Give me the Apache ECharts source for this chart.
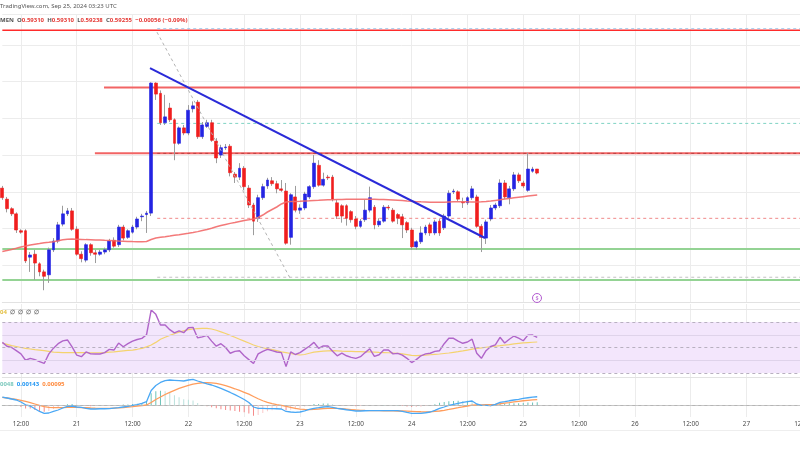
<!DOCTYPE html>
<html><head><meta charset="utf-8">
<script src="https://cdn.jsdelivr.net/npm/echarts@6.0.0/dist/echarts.min.js"></script>
<style>html,body{margin:0;padding:0;background:#fff}#c{width:800px;height:450px}</style>
</head><body><div id="c"></div>
<script>
// ---- axis labels (hourly slots starting Sep 20 08:00) ----
const timeLabels = ['12:00','21','12:00','22','12:00','23','12:00','24','12:00','25','12:00','26','12:00','27','12:00'];
const firstLabelIndex = 4;
const labelStep = 12;
const slotCount = 173;

// ---- hourly candles ----
const opens = [0.5905,0.5890,0.5877,0.5870,0.5847,0.5847,0.5811,0.5815,0.5802,0.5791,
0.5787,0.5821,0.5833,0.5856,0.5870,0.5874,0.5849,0.5815,0.5807,0.5828,
0.5817,0.5815,0.5818,0.5821,0.5834,0.5828,0.5852,0.5838,0.5845,0.5852,
0.5866,0.5869,0.5871,0.6048,0.6034,0.5994,0.6014,0.5998,0.5966,0.5987,
0.5980,0.6013,0.6022,0.5975,0.5989,0.5994,0.5969,0.5950,0.5960,0.5962,
0.5924,0.5920,0.5932,0.5905,0.5882,0.5864,0.5892,0.5908,0.5915,0.5911,
0.5904,0.5901,0.5838,0.5893,0.5875,0.5878,0.5893,0.5907,0.5936,0.5909,
0.5920,0.5920,0.5885,0.5881,0.5881,0.5873,0.5863,0.5853,0.5862,0.5875,
0.5879,0.5855,0.5860,0.5879,0.5875,0.5869,0.5866,0.5858,0.5848,0.5825,
0.5832,0.5844,0.5855,0.5844,0.5860,0.5851,0.5867,0.5900,0.5900,0.5886,
0.5885,0.5892,0.5893,0.5853,0.5837,0.5863,0.5878,0.5881,0.5912,0.5892,
0.5904,0.5923,0.5912,0.5902,0.5928,0.5931];
const closes = [0.5892,0.5877,0.5870,0.5848,0.5845,0.5806,0.5814,0.5803,0.5791,0.5785,
0.5821,0.5833,0.5855,0.5870,0.5874,0.5849,0.5815,0.5809,0.5828,0.5817,
0.5815,0.5818,0.5821,0.5833,0.5826,0.5852,0.5837,0.5847,0.5852,0.5863,
0.5867,0.5871,0.6048,0.6033,0.5994,0.6002,0.5998,0.5966,0.5987,0.5980,
0.6011,0.6017,0.5975,0.5991,0.5994,0.5970,0.5946,0.5960,0.5961,0.5926,
0.5920,0.5932,0.5907,0.5882,0.5860,0.5892,0.5907,0.5916,0.5911,0.5904,
0.5902,0.5830,0.5896,0.5875,0.5878,0.5897,0.5907,0.5939,0.5909,0.5917,
0.5919,0.5890,0.5867,0.5867,0.5864,0.5862,0.5853,0.5860,0.5875,0.5892,
0.5855,0.5860,0.5879,0.5878,0.5860,0.5864,0.5855,0.5848,0.5825,0.5832,
0.5844,0.5852,0.5844,0.5859,0.5844,0.5867,0.5898,0.5901,0.5890,0.5885,
0.5892,0.5904,0.5853,0.5838,0.5859,0.5878,0.5882,0.5912,0.5893,0.5904,
0.5923,0.5915,0.5908,0.5931,0.5931,0.59255];
const lows = [0.5889,0.5872,0.5867,0.5844,0.5843,0.5803,0.5791,0.5780,0.5785,0.5766,
0.5776,0.5818,0.5830,0.5853,0.5867,0.5847,0.5813,0.5804,0.5804,0.5813,
0.5803,0.5813,0.5815,0.5818,0.5824,0.5825,0.5834,0.5836,0.5843,0.5849,
0.5860,0.5844,0.5867,0.6025,0.5991,0.5991,0.5995,0.5943,0.5964,0.5977,
0.5977,0.6008,0.5972,0.5972,0.5987,0.5968,0.5939,0.5946,0.5957,0.5921,
0.5912,0.5916,0.5902,0.5878,0.5841,0.5859,0.5889,0.5904,0.5908,0.5898,
0.5900,0.5828,0.5828,0.5872,0.5870,0.5875,0.5890,0.5904,0.5907,0.5907,
0.5916,0.5887,0.5863,0.5858,0.5854,0.5858,0.5849,0.5851,0.5859,0.5872,
0.5849,0.5852,0.5858,0.5875,0.5858,0.5856,0.5837,0.5844,0.5821,0.5821,
0.5829,0.5841,0.5840,0.5841,0.5840,0.5848,0.5864,0.5897,0.5887,0.5878,
0.5882,0.5889,0.5851,0.5818,0.5829,0.5860,0.5875,0.5878,0.5890,0.5883,
0.5901,0.5912,0.5905,0.5900,0.5926,0.59238];
const highs = [0.5908,0.5893,0.5879,0.5872,0.5849,0.5849,0.5818,0.5821,0.5804,0.5794,
0.5824,0.5837,0.5859,0.5881,0.5878,0.5878,0.5853,0.5819,0.5830,0.5830,
0.5821,0.5821,0.5824,0.5836,0.5838,0.5855,0.5855,0.5849,0.5855,0.5866,
0.5870,0.5874,0.6049,0.6049,0.6038,0.6032,0.6021,0.6000,0.5989,0.5991,
0.6018,0.6023,0.6025,0.5995,0.5998,0.5998,0.5973,0.5964,0.5965,0.5965,
0.5927,0.5939,0.5935,0.5909,0.5885,0.5896,0.5911,0.5919,0.5920,0.5915,
0.5916,0.5912,0.5898,0.5908,0.5883,0.5900,0.5909,0.5950,0.5943,0.5926,
0.5923,0.5923,0.5889,0.5883,0.5883,0.5875,0.5867,0.5863,0.5889,0.5907,
0.5882,0.5864,0.5882,0.5882,0.5878,0.5871,0.5870,0.5860,0.5851,0.5834,
0.5853,0.5855,0.5858,0.5862,0.5863,0.5870,0.5902,0.5904,0.5902,0.5892,
0.5894,0.5908,0.5896,0.5856,0.5862,0.5882,0.5885,0.5917,0.5916,0.5908,
0.5927,0.5926,0.5915,0.5953,0.5934,0.5931];

// ---- moving average on price ----
const maValues = [0.58188,0.58201,0.58215,0.58231,0.58249,0.58262,0.58276,0.58287,0.58296,0.58306,
0.58313,0.58321,0.58333,0.58347,0.58355,0.58358,0.58355,0.58352,0.58349,0.58347,
0.58344,0.58344,0.5834,0.58337,0.58333,0.5833,0.58328,0.58325,0.58322,0.58321,
0.58319,0.58324,0.58351,0.58371,0.58381,0.58389,0.58398,0.58408,0.58416,0.58426,
0.58435,0.58446,0.58458,0.58473,0.58487,0.58504,0.58524,0.58541,0.58556,0.5857,
0.58582,0.58596,0.58609,0.58619,0.5863,0.5865,0.58684,0.58725,0.58759,0.58793,
0.58834,0.58861,0.58868,0.58868,0.5887,0.58874,0.58878,0.58883,0.58885,0.58888,
0.58891,0.58893,0.58895,0.58896,0.58898,0.58899,0.58899,0.58899,0.58899,0.58899,
0.58898,0.58896,0.58895,0.58892,0.58888,0.58884,0.5888,0.58874,0.5887,0.58866,
0.58863,0.58861,0.58859,0.58858,0.58858,0.58858,0.58861,0.58863,0.58865,0.58865,
0.58863,0.58862,0.58861,0.58863,0.58868,0.58874,0.58883,0.58892,0.58902,0.5891,
0.58918,0.58926,0.58934,0.58942,0.58949,0.58956];

// ---- drawn annotations: [slot index, price] ----
const trendLine = [[31.75,0.60683],[103.78,0.58371]];
const measureLine = [[33.25,0.61173],[61.85,0.57827]];
const levelPrices = [0.6120,0.6122,0.60421,0.59931,0.59523,0.59523,0.58639,0.58222,0.57837,0.5780];
const levelStarts = [0,33.3,21.86,33.3,19.9,33.3,33.3,0,33.3,0];

// ---- RSI ----
const rsiValues = [54,51,50,47.5,45,40,41.5,40.5,39,37.5,
45,49.5,53,55.2,55.9,50.5,44,42.8,46.5,45,
44.9,44.9,46,48.5,48,53.5,50.6,53,55,56.3,
57.2,60,79.4,76,67.6,67.6,64,61.5,63,61.6,
65.5,65.8,57.5,58.3,59.5,55,51,53,50,45.5,
47,47.5,43.5,40.5,37.5,45,47,48.6,47.5,46.5,
46,35,46.5,44.5,46,48.5,51,54,49.4,51.2,
51.2,47,43.5,45.5,43.5,42.3,41.5,42.8,46,49,
43,44.3,48,48,45,45.4,44,41.5,38.2,40.5,
43.5,45,45.5,47,47.5,53,57.2,57.2,55,53.3,
54.3,56.5,45.5,41.5,47.5,50.8,52,58,53.5,56.5,
59,57.3,55.3,59.7,59.8,58];
const rsiMA = [53.5,52.5,51.5,50.8,50,49.3,48.8,48.3,48,47.5,
47,46.4,46.2,46,46,46,46,46,46,45.9,
45.9,45.9,46,46.3,46.6,47,47.4,47.8,48,48.6,
49.3,50.5,52,54,56.5,58,59.5,60.8,62,63,
64,64.5,64.8,65,65,64.5,63.5,62.3,61,59.5,
58,56.5,55,53.5,52,50.8,49.8,49,48.3,47.5,
46.6,46,45.3,44.5,44.1,44.5,45.5,46.4,46.8,47.1,
47.4,47.5,47.3,47.1,47,46.9,46.8,46.7,46.6,46.5,
46.3,46.1,46,45.9,45.7,45.5,45,44.4,43.8,43.6,
43.8,44,44.3,44.6,44.9,45.3,45.7,46.2,46.7,47.3,
48,48.7,49.3,49.7,50.2,50.6,51,51.4,51.9,52.3,
52.8,53.2,53.6,53.9,54.1,54.3];

// ---- MACD ----
const macdLine = [0.00136,0.00122,0.00105,0.00088,0.00054,0.00007,-0.00014,-0.00061,-0.00107,-0.00138,
-0.00133,-0.00107,-0.00082,-0.00048,-0.00022,-0.00014,-0.00031,-0.00039,-0.00053,-0.00065,
-0.00065,-0.00061,-0.00061,-0.0006,-0.00051,-0.00043,-0.00031,-0.00022,-0.00005,0.00009,
0.00029,0.0006,0.0025,0.00335,0.00386,0.00417,0.00428,0.00423,0.00417,0.00411,
0.00428,0.00437,0.00411,0.00386,0.00364,0.00343,0.00315,0.00284,0.0025,0.00216,
0.00179,0.00139,0.00097,0.00046,-0.00031,-0.00056,-0.00056,-0.00058,-0.0006,-0.00061,
-0.00065,-0.00107,-0.00116,-0.00124,-0.00116,-0.00095,-0.00073,-0.00053,-0.00043,-0.00031,
-0.00026,-0.00039,-0.00056,-0.00065,-0.00078,-0.0009,-0.00099,-0.00099,-0.00095,-0.00094,
-0.00094,-0.00094,-0.00094,-0.00094,-0.00094,-0.00094,-0.00107,-0.00124,-0.00138,-0.00141,
-0.00138,-0.00129,-0.00116,-0.0009,-0.00056,-0.00031,-0.00005,0.00015,0.00032,0.00046,
0.0006,0.00071,0.0002,-0.00002,-0.00005,-0.00009,0.00012,0.00046,0.0006,0.00075,
0.00088,0.001,0.00114,0.00126,0.00136,0.00143];
const signalLine = [0.00134,0.00122,0.00109,0.00097,0.00083,0.00063,0.00043,0.0002,-0.00005,-0.00026,
-0.00036,-0.00041,-0.00043,-0.00041,-0.00037,-0.00036,-0.00037,-0.00041,-0.00044,-0.00048,
-0.00051,-0.00053,-0.00053,-0.00053,-0.00049,-0.00046,-0.00041,-0.00034,-0.00026,-0.00017,
-0.00007,0.00003,0.00046,0.00097,0.00139,0.00182,0.00219,0.00253,0.00284,0.00311,
0.00335,0.00357,0.00372,0.00381,0.00383,0.00379,0.00369,0.00352,0.00332,0.00306,
0.00279,0.0025,0.00219,0.00187,0.00148,0.00109,0.00075,0.00046,0.00026,0.0001,
-0.00005,-0.00022,-0.00039,-0.00054,-0.00068,-0.00073,-0.00075,-0.00071,-0.00065,-0.00058,
-0.00053,-0.00053,-0.00056,-0.00061,-0.00068,-0.00075,-0.00082,-0.00087,-0.0009,-0.00092,
-0.00094,-0.00094,-0.00095,-0.00095,-0.00097,-0.00099,-0.00099,-0.00102,-0.00105,-0.00109,
-0.00112,-0.00114,-0.00112,-0.00107,-0.00099,-0.00087,-0.00073,-0.00058,-0.00043,-0.00027,
-0.00014,0,0.00003,0.00003,0.00007,0.0001,0.00015,0.00024,0.00034,0.00044,
0.00056,0.00066,0.00075,0.00082,0.00089,0.00095];

// ---------- build ----------
const cats = [];
for (let i = 0; i < slotCount; i++) {
  const k = i - firstLabelIndex;
  cats.push(k >= 0 && k % labelStep === 0 ? timeLabels[k / labelStep] : '');
}
const isLabel = (idx) => cats[idx] !== '';
const wickData = opens.map((o, i) => [o, closes[i], lows[i], highs[i]]);
const bodyData = opens.map((o, i) => [o, closes[i], Math.min(o, closes[i]), Math.max(o, closes[i])]);
const histData = macdLine.map((m, i) => +(m - signalLine[i]).toFixed(6));

const levelStyles = [
  {color:'#ff2b2b', width:1.5, type:'solid'},
  {color:'#9ec5ea', width:1, type:[3,3]},
  {color:'#f26464', width:2, type:'solid'},
  {color:'#7fd3c3', width:1, type:[3,3]},
  {color:'#f26464', width:2, type:'solid'},
  {color:'#b94343', width:1, type:[3,3]},
  {color:'#f08a8a', width:1, type:[3,3]},
  {color:'#94d394', width:2, type:'solid'},
  {color:'#c2c2c2', width:1, type:[3,3]},
  {color:'#94d394', width:2, type:'solid'}
];
const lastSlot = slotCount - 1;
const levelSeries = levelPrices.map((p, i) => ({
  type:'line', xAxisIndex:1, yAxisIndex:0, symbol:'none', silent:true, z:1,
  lineStyle: levelStyles[i], data: [[levelStarts[i], p], [lastSlot, p]], animation:false
}));

const grid = { color:'#ececec' };
const font = 'Noto Sans';
const fs = 6.0;
const chart = echarts.init(document.getElementById('c'), null, {renderer:'canvas'});
chart.setOption({
  animation:false,
  backgroundColor:'#ffffff',
  title:[
    {text:'TradingView.com, Sep 25, 2024 03:23 UTC', left:0, top:3, padding:0,
     textStyle:{fontSize:fs, color:'#555', fontWeight:'normal', fontFamily:font}},
    {text:'{k|MEN}  {k|O}{v|0.59310}  {k|H}{v|0.59310}  {k|L}{v|0.59238}  {k|C}{v|0.59255}  {v|−0.00056 (−0.09%)}',
     left:0, top:17, padding:0,
     textStyle:{fontSize:fs, fontFamily:font, rich:{
       k:{fontSize:fs, color:'#555', fontFamily:font},
       v:{fontSize:fs, color:'#e53935', fontFamily:font}}}},
    {text:'{y|04}  {g|∅  ∅  ∅  ∅}', left:0, top:309, padding:0,
     textStyle:{fontSize:fs, fontFamily:font, rich:{
       y:{fontSize:fs, color:'#e3bf3f', fontFamily:font},
       g:{fontSize:fs, color:'#777', fontFamily:font}}}},
    {text:'{t|0048}  {b|0.00143}  {o|0.00095}', left:0, top:381, padding:0,
     textStyle:{fontSize:fs, fontFamily:font, rich:{
       t:{fontSize:fs, color:'#7cc9bd', fontFamily:font},
       b:{fontSize:fs, color:'#2196f3', fontFamily:font},
       o:{fontSize:fs, color:'#ff8a3d', fontFamily:font}}}}
  ],
  grid:[
    {left:2.33, top:14, width:800, height:288, containLabel:false, outerBoundsMode:'none'},
    {left:2.33, top:304, width:800, height:73, containLabel:false, outerBoundsMode:'none'},
    {left:2.33, top:378, width:800, height:39, containLabel:false, outerBoundsMode:'none'}
  ],
  xAxis:[
    {type:'category', gridIndex:0, data:cats, boundaryGap:false,
     axisLine:{show:true, lineStyle:{color:'#e2e2e2'}}, axisTick:{show:false}, axisLabel:{show:false},
     splitLine:{show:true, interval:(i)=>isLabel(i), lineStyle:grid}},
    {type:'value', gridIndex:0, min:0, max:lastSlot, show:false},
    {type:'category', gridIndex:1, data:cats, boundaryGap:false,
     axisLine:{show:true, lineStyle:{color:'#e2e2e2'}}, axisTick:{show:false}, axisLabel:{show:false},
     splitLine:{show:true, interval:(i)=>isLabel(i), lineStyle:grid}},
    {type:'category', gridIndex:2, data:cats, boundaryGap:false,
     axisLine:{show:true, lineStyle:{color:'#c6c6c6'}}, axisTick:{show:false},
     axisLabel:{show:true, interval:(i)=>isLabel(i), color:'#4a4a4a', fontSize:6.4, fontFamily:font, margin:4, hideOverlap:false},
     splitLine:{show:true, interval:(i)=>isLabel(i), lineStyle:grid}}
  ],
  yAxis:[
    {type:'value', gridIndex:0, position:'right', min:0.575, max:0.6142, interval:0.005,
     axisLine:{show:false}, axisTick:{show:false}, axisLabel:{show:false},
     splitLine:{show:true, lineStyle:grid}},
    {type:'value', gridIndex:1, min:26.86, max:84.12, show:false, splitLine:{show:false}},
    {type:'value', gridIndex:2, min:-0.00201, max:0.00462, show:false, splitLine:{show:false}}
  ],
  graphic:[
    {type:'line', shape:{x1:0, y1:430.5, x2:800, y2:430.5}, style:{stroke:'#eeeeee', lineWidth:1}, silent:true},
    {type:'circle', shape:{cx:537, cy:298, r:4.5}, style:{fill:'#ffffff', stroke:'#b35bd0', lineWidth:1}, silent:true, z:100},
    {type:'text', x:537, y:298, style:{text:'$', fill:'#b35bd0', fontSize:5.5, align:'center', verticalAlign:'middle', fontFamily:font}, silent:true, z:101}
  ],
  series:[
    ...levelSeries,
    {type:'candlestick', xAxisIndex:0, yAxisIndex:0, data:wickData, barWidth:1, z:2,
     itemStyle:{color:'#9c9c9c', color0:'#9c9c9c', borderColor:'#9c9c9c', borderColor0:'#9c9c9c', borderWidth:1}},
    {type:'candlestick', xAxisIndex:0, yAxisIndex:0, data:bodyData, barWidth:3.3, z:3,
     itemStyle:{color:'#2424e2', color0:'#f01e1e', borderColor:'#2424e2', borderColor0:'#f01e1e', borderWidth:0.6}},
    {type:'line', xAxisIndex:0, yAxisIndex:0, data:maValues, symbol:'none', z:4,
     lineStyle:{color:'#f26a6a', width:1.5, opacity:0.9}},
    {type:'line', xAxisIndex:1, yAxisIndex:0, data:measureLine, symbol:'none', z:4,
     lineStyle:{color:'#b3b3b3', width:1, type:[3,3]}},
    {type:'line', xAxisIndex:1, yAxisIndex:0, data:trendLine, symbol:'none', z:5,
     lineStyle:{color:'#2a2ad8', width:2}},
    // RSI
    {type:'line', xAxisIndex:2, yAxisIndex:1, data:rsiValues, symbol:'none', z:4,
     lineStyle:{color:'#b065c9', width:1.4},
     markArea:{silent:true, itemStyle:{color:'#f3e6fc'}, data:[[{yAxis:30},{yAxis:70}]]},
     markLine:{silent:true, symbol:'none', label:{show:false},
       data:[
         {yAxis:80, lineStyle:{color:'#e6e6e6', type:'solid', width:1}},
         {yAxis:60, lineStyle:{color:'#dfd3ea', type:'solid', width:1}},
         {yAxis:40, lineStyle:{color:'#dfd3ea', type:'solid', width:1}},
         {yAxis:70, lineStyle:{color:'#b8b0c0', type:[3,3], width:1}},
         {yAxis:50, lineStyle:{color:'#b8b0c0', type:[3,3], width:1}},
         {yAxis:30, lineStyle:{color:'#b8b0c0', type:[3,3], width:1}}
       ]}},
    {type:'line', xAxisIndex:2, yAxisIndex:1, data:rsiMA, symbol:'none', z:3,
     lineStyle:{color:'#f4d36e', width:1.2}},
    // MACD
    {type:'bar', xAxisIndex:3, yAxisIndex:2, data:histData, barWidth:1, z:2,
     itemStyle:{color:(p)=>{
       const h = p.value, prev = p.dataIndex > 0 ? histData[p.dataIndex-1] : h;
       if (h >= 0) return h >= prev ? '#6cc3b8' : '#b9e1dc';
       return h <= prev ? '#f58a8a' : '#fbc9c9';
     }},
     markLine:{silent:true, symbol:'none', label:{show:false},
       data:[{yAxis:0, lineStyle:{color:'#b5b5b5', type:[3,3], width:1}}]}},
    {type:'line', xAxisIndex:3, yAxisIndex:2, data:macdLine, symbol:'none', z:4,
     lineStyle:{color:'#4aa8f5', width:1.3}},
    {type:'line', xAxisIndex:3, yAxisIndex:2, data:signalLine, symbol:'none', z:3,
     lineStyle:{color:'#ff9d5c', width:1.3}}
  ]
});
</script>
</body></html>
